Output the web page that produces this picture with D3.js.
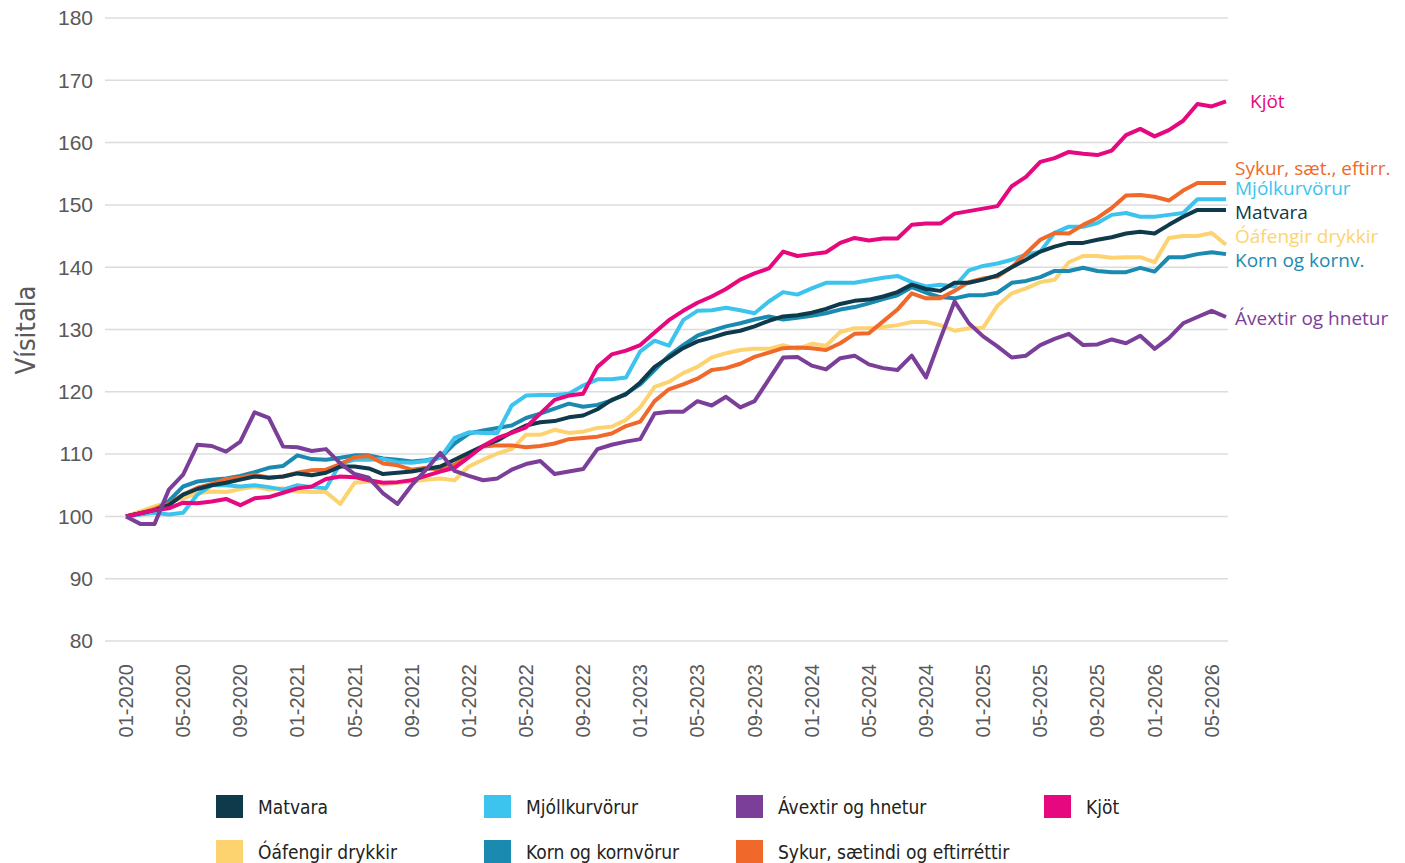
<!DOCTYPE html>
<html>
<head>
<meta charset="utf-8">
<script src="https://cdn.jsdelivr.net/npm/d3@7"></script>
<style>
  body { margin: 0; background: #fff; }
  svg { display: block; }
</style>
</head>
<body>
<div id="chart"></div>
<script>
// x tick labels, one every 4 months starting at 01-2020
var tickLabels = ["01-2020","05-2020","09-2020","01-2021","05-2021","09-2021","01-2022","05-2022","09-2022","01-2023",
                  "05-2023","09-2023","01-2024","05-2024","09-2024","01-2025","05-2025","09-2025","01-2026","05-2026"];
var yTicks = [80, 90, 100, 110, 120, 130, 140, 150, 160, 170, 180];

var matvara = [100,100.5,101,101.8,103.5,104.4,105,105.4,105.9,106.4,106.2,106.4,106.9,106.6,107,108,108,107.7,106.8,107,
  107.2,107.6,108,109.1,110.2,111.3,112.2,113.5,114.6,115.1,115.3,115.9,116.2,117.2,118.7,119.6,121.5,124,125.5,127,
  128.1,128.7,129.4,129.8,130.5,131.4,132.1,132.3,132.7,133.3,134.1,134.6,134.8,135.3,136,137.2,136.5,136.2,137.5,137.5,
  138,138.7,140,141.2,142.5,143.3,143.9,143.9,144.4,144.8,145.4,145.7,145.4,146.8,148.1,149.2,149.2,149.2];
var mjolk = [100,100.3,100.6,100.3,100.6,103.5,105,105,104.8,105,104.7,104.3,105,104.7,104.5,108.5,109.1,109.1,109.2,108.7,
  108.6,108.9,109.4,112.6,113.5,113.4,113.4,117.8,119.4,119.5,119.5,119.7,121,122,122,122.3,126.5,128.2,127.4,131.5,
  133,133.1,133.5,133.1,132.6,134.5,136,135.6,136.6,137.5,137.5,137.5,137.9,138.3,138.6,137.6,136.9,137.2,136.9,139.5,
  140.2,140.6,141.2,142,142.5,145.5,146.5,146.5,147.1,148.4,148.7,148.1,148.1,148.4,148.7,150.9,150.9,150.9];
var avextir = [100,98.8,98.8,104.3,106.7,111.5,111.3,110.4,112,116.7,115.8,111.2,111.1,110.5,110.8,108.5,106.8,106.2,103.7,102,
  105,107.5,110.2,107.3,106.5,105.8,106.1,107.5,108.4,108.9,106.8,107.2,107.6,110.8,111.5,112,112.4,116.5,116.8,116.8,
  118.5,117.8,119.2,117.5,118.5,122,125.5,125.6,124.2,123.6,125.4,125.8,124.4,123.8,123.5,125.8,122.3,128.5,134.5,131,
  128.9,127.3,125.5,125.8,127.5,128.5,129.3,127.5,127.6,128.4,127.8,129,126.9,128.6,131,132,133,132];
var kjot = [100,100.5,101,101.3,102.2,102.1,102.4,102.8,101.8,102.9,103.1,103.8,104.5,104.8,106,106.4,106.3,105.8,105.4,105.5,
  105.8,106.5,107.2,107.8,109.5,111.3,112.6,113.4,114.3,116.5,118.7,119.4,119.7,124,126,126.6,127.5,129.5,131.5,133,
  134.3,135.3,136.5,138,139,139.8,142.5,141.8,142.1,142.4,143.9,144.7,144.3,144.6,144.6,146.8,147,147,148.6,149,
  149.4,149.8,153,154.5,156.9,157.5,158.5,158.2,158,158.7,161.2,162.2,161,162,163.5,166.2,165.8,166.6];
var oafengir = [100,100.8,101.6,102.3,102.9,103.7,104,103.9,104.4,104.8,104.3,104.5,104,103.9,103.9,102,105.4,105.6,105.1,105.4,
  105.6,105.9,106.1,105.8,108,109.1,110.1,110.8,113.1,113.1,113.9,113.4,113.6,114.2,114.4,115.5,117.5,120.8,121.6,123,
  124,125.5,126.2,126.7,126.9,126.9,127.5,126.9,127.7,127.4,129.6,130.2,130.2,130.4,130.7,131.2,131.2,130.7,129.8,130.2,
  130.3,133.8,135.8,136.6,137.6,138,140.8,141.8,141.8,141.5,141.6,141.6,140.8,144.7,145,145,145.5,143.6];
var korn = [100,100.5,101,102.5,104.8,105.6,105.9,106.1,106.5,107.1,107.8,108.1,109.8,109.2,109.1,109.4,109.8,109.8,109.3,109.1,
  108.8,109,109.4,111.7,113.3,113.8,114.2,114.6,115.8,116.5,117.3,118.1,117.6,117.9,118.6,119.7,121.2,123.5,125.8,127.5,
  129,129.8,130.5,131,131.6,132.1,131.6,131.9,132.2,132.6,133.2,133.6,134.2,134.9,135.5,136.8,135.9,135.2,135,135.5,
  135.5,135.9,137.5,137.8,138.4,139.4,139.4,139.9,139.4,139.2,139.2,139.9,139.3,141.6,141.6,142.1,142.4,142.1];
var sykur = [100,100.5,101.2,102,103.5,104.6,105.2,106,106.2,106.7,106.2,106.4,107,107.4,107.5,108.4,109.5,109.7,108.5,108.2,
  107.5,107.8,107.5,108.3,109.8,111.2,111.4,111.4,111.1,111.3,111.7,112.4,112.6,112.8,113.3,114.5,115.2,118.5,120.4,121.2,
  122.1,123.5,123.8,124.5,125.6,126.3,127,127.1,127,126.7,127.8,129.3,129.4,131.3,133.2,135.8,135,135,136.2,137.6,
  138.2,138.5,140,142.2,144.4,145.5,145.4,146.8,147.9,149.5,151.5,151.6,151.3,150.7,152.3,153.5,153.5,153.5];

var series = [
  {key: "oafengir", legend: "Óáfengir drykkir", end: "Óáfengir drykkir", color: "#fdd36f", values: oafengir, labelY: 236},
  {key: "korn", legend: "Korn og kornvörur", end: "Korn og kornv.", color: "#1b8ab1", values: korn, labelY: 260},
  {key: "mjolk", legend: "Mjóllkurvörur", end: "Mjólkurvörur", color: "#3cc4ee", values: mjolk, labelY: 188},
  {key: "sykur", legend: "Sykur, sætindi og eftirréttir", end: "Sykur, sæt., eftirr.", color: "#f0692a", values: sykur, labelY: 168},
  {key: "matvara", legend: "Matvara", end: "Matvara", color: "#0e3a4b", values: matvara, labelY: 212},
  {key: "kjot", legend: "Kjöt", end: "Kjöt", color: "#e5087f", values: kjot, labelY: 101, labelX: 1250},
  {key: "avextir", legend: "Ávextir og hnetur", end: "Ávextir og hnetur", color: "#7b3f99", values: avextir, labelY: 318}
];
var legendOrder = ["matvara", "mjolk", "avextir", "kjot", "oafengir", "korn", "sykur"];

var W = 1405, H = 863;
var svg = d3.select("#chart").append("svg").attr("width", W).attr("height", H);

var n = matvara.length;
var x = d3.scaleLinear().domain([0, n - 1]).range([126, 1226]);
var y = d3.scaleLinear().domain([80, 180]).range([641, 18]);

// grid + y labels
svg.append("g").selectAll("line").data(yTicks).enter().append("line")
    .attr("x1", 105).attr("x2", 1228)
    .attr("y1", function(d){ return y(d); }).attr("y2", function(d){ return y(d); })
    .attr("stroke", "#dcdcdc").attr("stroke-width", 1.5);

svg.append("g").selectAll("text").data(yTicks).enter().append("text")
    .attr("x", 93).attr("y", function(d){ return y(d); }).attr("dy", "0.35em")
    .attr("text-anchor", "end")
    .style("font-family", "'Liberation Sans', Arial, sans-serif").style("font-size", "21px")
    .attr("fill", "#595959")
    .text(function(d){ return d; });

svg.append("text")
    .attr("transform", "translate(35,330) rotate(-90)")
    .attr("text-anchor", "middle")
    .style("font-family", "'Liberation Sans Narrow', 'DejaVu Sans Condensed', sans-serif").style("font-size", "27px")
    .attr("fill", "#595959")
    .text("Vísitala");

// x labels
svg.append("g").selectAll("text").data(tickLabels).enter().append("text")
    .attr("transform", function(d, i){ return "translate(" + (x(i * 4) + 7) + ",664) rotate(-90)"; })
    .attr("text-anchor", "end")
    .style("font-family", "'Liberation Sans', Arial, sans-serif").style("font-size", "20px")
    .attr("fill", "#595959")
    .text(function(d){ return d; });

// lines
var line = d3.line()
    .x(function(d, i){ return x(i); })
    .y(function(d){ return y(d); });

svg.append("g").selectAll("path").data(series).enter().append("path")
    .attr("d", function(d){ return line(d.values); })
    .attr("fill", "none")
    .attr("stroke", function(d){ return d.color; })
    .attr("stroke-width", 4)
    .attr("stroke-linejoin", "round");

// end labels
svg.append("g").selectAll("text").data(series).enter().append("text")
    .attr("x", function(d){ return d.labelX || 1235; })
    .attr("y", function(d){ return d.labelY; }).attr("dy", "0.35em")
    .style("font-family", "'Open Sans', 'Noto Sans', sans-serif").style("font-size", "19px")
    .attr("fill", function(d){ return d.color; })
    .text(function(d){ return d.end; });

// legend
var byKey = {};
series.forEach(function(s){ byKey[s.key] = s; });
var legX = [216, 484, 736, 1044];
var legend = svg.append("g").selectAll("g").data(legendOrder).enter().append("g")
    .attr("transform", function(d, i){ return "translate(" + legX[i % 4] + "," + (i < 4 ? 795 : 840) + ")"; });
legend.append("rect").attr("width", 27).attr("height", 23)
    .attr("fill", function(d){ return byKey[d].color; });
legend.append("text").attr("x", 42).attr("y", 12).attr("dy", "0.35em")
    .style("font-family", "'Liberation Sans Narrow', 'DejaVu Sans Condensed', sans-serif").style("font-size", "19px")
    .attr("fill", "#222")
    .text(function(d){ return byKey[d].legend; });
</script>
</body>
</html>
